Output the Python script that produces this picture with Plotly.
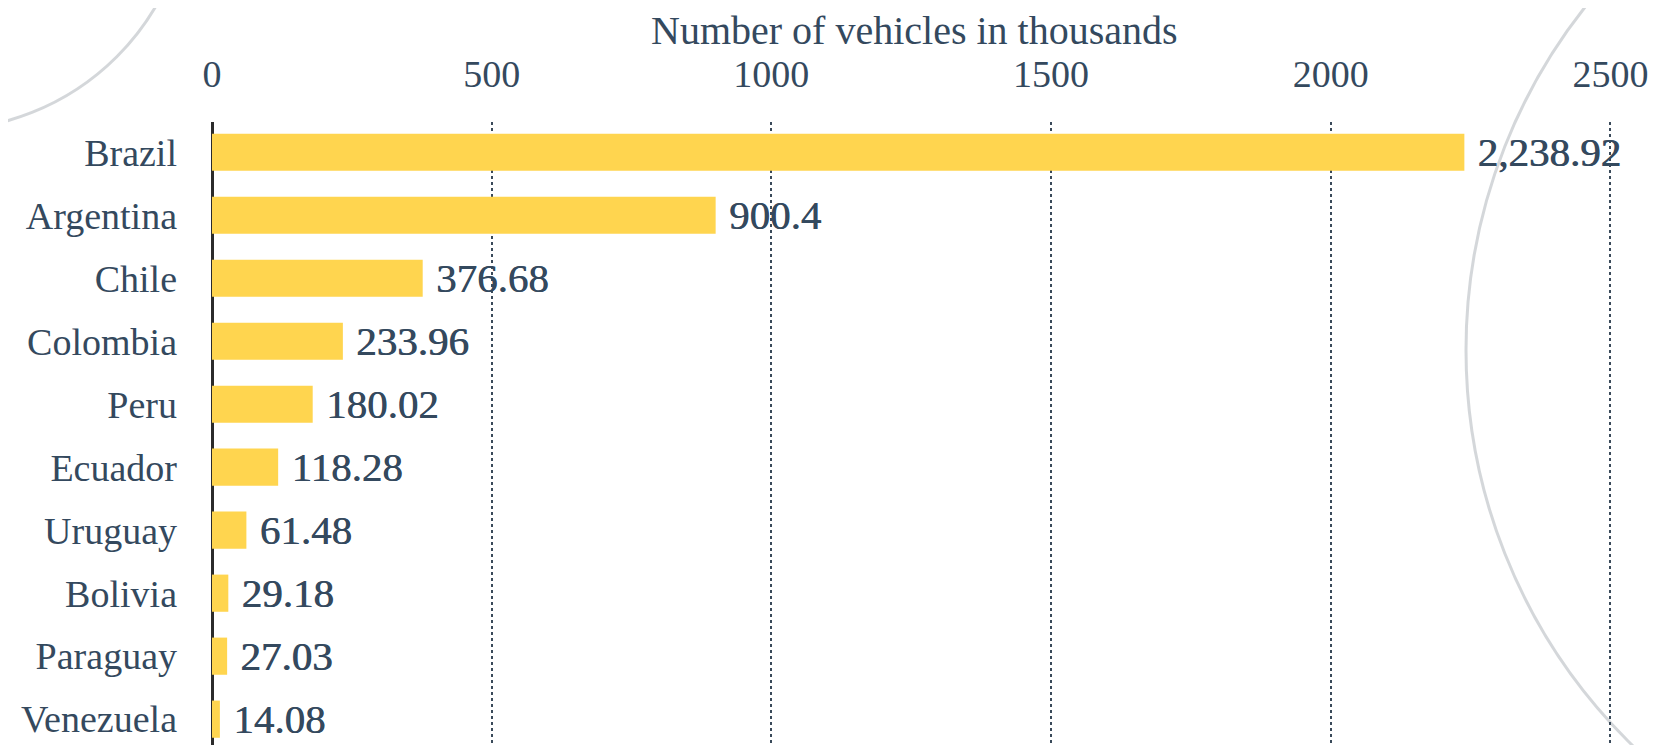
import plotly.graph_objects as go

# -- data
countries = ["Brazil", "Argentina", "Chile", "Colombia", "Peru",
             "Ecuador", "Uruguay", "Bolivia", "Paraguay", "Venezuela"]
vehicles = [2238.92, 900.4, 376.68, 233.96, 180.02,
            118.28, 61.48, 29.18, 27.03, 14.08]
x_ticks = [0, 500, 1000, 1500, 2000, 2500]

SERIF = "Times New Roman, Liberation Serif, serif"
INK = "#34495e"

# -- figure geometry (pixels, the page body adds 8px offset)
W, H = 1666, 745
L, R, T, B = 204, 58, 114, 8
pw, ph = W - L - R, H - T - B


def px(x):
    return (x - L) / pw


def py(y):
    return (H - B - y) / ph


fig = go.Figure()

fig.add_trace(go.Bar(
    x=vehicles, y=countries, orientation="h",
    marker=dict(color="#FFD54F", line=dict(width=0)),
    texttemplate="\u2005%{x:,}", textposition="outside",
    cliponaxis=False, constraintext="none",
    textfont=dict(family=SERIF, size=41, color=INK,
                  shadow="0.6px 0 0 " + INK),
    hoverinfo="skip",
))

# decorative arcs in the background
arcs = [(-68, -128, 250), (2011, 342, 553)]
shapes = []
for cx, cy, r in arcs:
    shapes.append(dict(type="circle", xref="paper", yref="paper", layer="below",
                       x0=px(cx - r), x1=px(cx + r), y0=py(cy + r), y1=py(cy - r),
                       line=dict(color="rgba(205,208,212,0.85)", width=3)))

# axis title as annotation (placed above the top tick labels)
title_note = dict(text="Number of vehicles in thousands", xref="paper", yref="paper",
                  x=0.5, y=py(22), xanchor="center", yanchor="middle", showarrow=False,
                  height=38, valign="middle", borderpad=0,
                  font=dict(family=SERIF, size=40, color=INK))

fig.update_layout(
    width=W, height=H,
    margin=dict(l=L, r=R, t=T, b=B, pad=0),
    paper_bgcolor="white", plot_bgcolor="rgba(0,0,0,0)",
    bargap=0.41, showlegend=False,
    font=dict(family=SERIF, color=INK),
    shapes=shapes, annotations=[title_note],
    xaxis=dict(
        side="top", range=[0, 2510], tickvals=x_ticks,
        tickfont=dict(size=38), ticks="", ticklabelstandoff=26,
        showgrid=True, gridcolor="#3a4a5a", gridwidth=1.5, griddash="dot",
        zeroline=True, zerolinecolor="#2b2b2b", zerolinewidth=3,
    ),
    yaxis=dict(
        categoryorder="array", categoryarray=countries,
        range=[9.41, -0.48], tickfont=dict(size=38),
        ticks="", ticklabelstandoff=34, showgrid=False, zeroline=False,
    ),
)

fig.write_html("out.html")
